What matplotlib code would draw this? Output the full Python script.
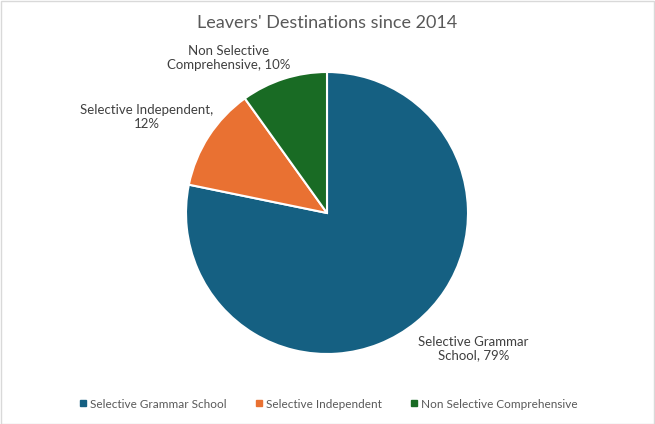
import matplotlib.pyplot as plt
from matplotlib.patches import Rectangle
from matplotlib.lines import Line2D

plt.rcParams['font.family'] = ['Lato', 'DejaVu Sans']

categories = ['Selective Grammar School', 'Selective Independent', 'Non Selective Comprehensive']
values = [79, 12, 10]
label_text = ['Selective Grammar\nSchool, 79%', 'Selective Independent,\n12%', 'Non Selective\nComprehensive, 10%']
colors = ['#156082', '#E97132', '#196B24']

fig = plt.figure(figsize=(6.55, 4.24), dpi=100)
ax = fig.add_axes([186 / 655, 70 / 424, 282 / 655, 282 / 424])

wedges, _ = ax.pie(values, colors=colors, startangle=90, counterclock=False,
                   wedgeprops=dict(edgecolor='white', linewidth=1.5))
ax.set_xlim(-1, 1)
ax.set_ylim(-1, 1)
ax.set_aspect('equal')

# label positions (data coords, radius = 1)
label_pos = [(1.04, -0.96), (-1.28, 0.68), (-0.70, 1.10)]
for txt, (x, y) in zip(label_text, label_pos):
    ax.text(x, y, txt, ha='center', va='center', fontsize=9.5, color='#404040',
            linespacing=1.15, clip_on=False)

fig.text(0.5, 0.945, "Leavers' Destinations since 2014", ha='center', va='center',
         fontsize=13, color='#595959')

handles = [Line2D([], [], marker='s', linestyle='', color=c, markersize=4.5) for c in colors]
fig.legend(handles, categories, loc='center', bbox_to_anchor=(0.5, 20 / 424),
           ncol=3, frameon=False, fontsize=8.5, labelcolor='#595959',
           handletextpad=0.1, columnspacing=2.2, handlelength=1.0)

fig.patches.append(Rectangle((0.001, 0.001), 0.997, 0.996, transform=fig.transFigure,
                             fill=False, edgecolor='#D9D9D9', linewidth=1))

fig.savefig('out.png', dpi=100)
